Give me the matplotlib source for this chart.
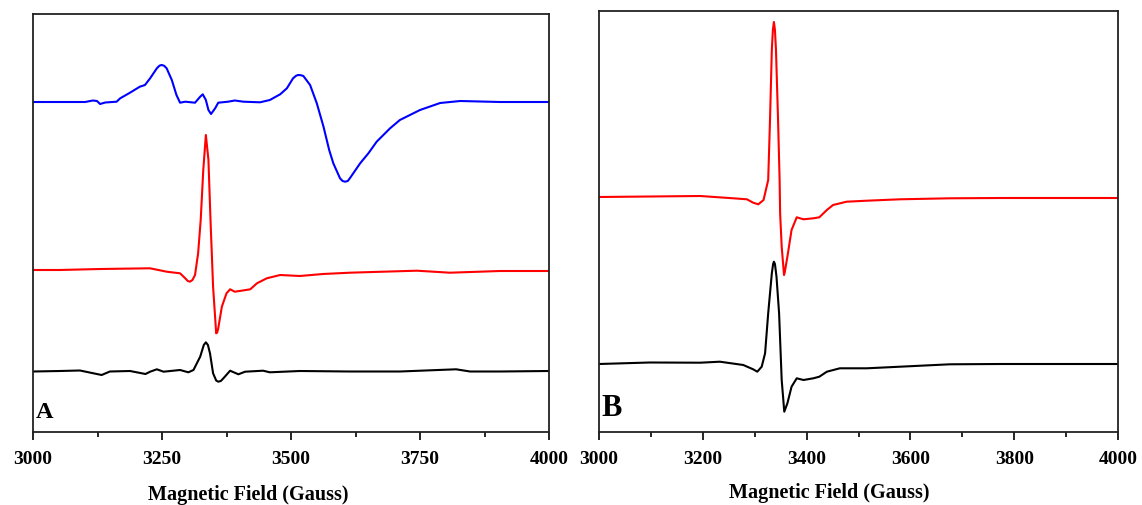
import matplotlib
matplotlib.use("Agg")
import matplotlib.pyplot as plt
from matplotlib.ticker import MultipleLocator

plt.rcParams['font.family'] = ['Liberation Serif', 'DejaVu Serif']

# ---------------- Panel A data (field in Gauss, intensity in a.u.) ----------------
a_blue_field = [3000, 3052, 3101, 3116, 3124, 3130, 3140, 3162, 3169, 3188, 3207, 3217, 3227,
                3240, 3245, 3249, 3254, 3259, 3269, 3278, 3285, 3295, 3314, 3324, 3329, 3335,
                3340, 3345, 3353, 3359, 3378, 3391, 3408, 3440, 3459, 3479, 3492, 3504, 3510,
                3514, 3519, 3524, 3537, 3550, 3563, 3574, 3582, 3595, 3600, 3605, 3610, 3614,
                3634, 3650, 3666, 3692, 3711, 3750, 3789, 3828, 3905, 4000]
a_blue_int = [330, 330, 330, 331.5, 331, 328, 329.5, 330.3, 333.7, 339.3, 345.3, 347, 353.7,
              363.7, 366.3, 367, 366.3, 363.7, 352, 337, 329.3, 330.3, 329.3, 335.3, 337.7, 332,
              322, 318, 323.7, 329.3, 330.3, 331.5, 330.3, 329.7, 332, 337.7, 343.7, 353.7, 356.3,
              357, 356.8, 356, 347, 328.7, 305.3, 282, 268.7, 253.7, 251, 250.3, 251, 253.7,
              268.7, 278.7, 290.3, 303.7, 312, 322, 329, 331, 330, 330]

a_red_field = [3000, 3052, 3130, 3227, 3259, 3285, 3295, 3300, 3304, 3309, 3314, 3320, 3325,
               3330, 3335, 3340, 3344, 3349, 3355, 3357, 3359, 3366, 3375, 3382, 3391, 3404,
               3421, 3434, 3453, 3479, 3517, 3562, 3614, 3678, 3744, 3808, 3905, 4000]
a_red_int = [162, 162, 163, 163.7, 160.3, 158.7, 153.7, 151, 150.3, 152, 157, 178.7, 212,
             262, 297, 272, 212, 145.3, 98.7, 99.5, 103.7, 125.3, 138.7, 142.7, 140.3, 141.3,
             142.7, 148.7, 153.7, 157, 156, 158, 159.3, 160.3, 161.3, 159.3, 161, 161]

a_black_field = [3000, 3052, 3091, 3133, 3149, 3188, 3218, 3227, 3240, 3253, 3285, 3301, 3311,
                 3324, 3331, 3335, 3339, 3343, 3349, 3355, 3359, 3364, 3369, 3382, 3398, 3411,
                 3446, 3459, 3517, 3614, 3711, 3820, 3847, 3905, 4000]
a_black_int = [60.5, 61, 61.5, 57, 60.5, 61, 58, 60.3, 62.7, 60.3, 62, 59.7, 62,
               75.3, 87, 89.7, 87, 78.7, 58.7, 51.5, 50.3, 51, 53.7, 61.3, 57.7, 60.3,
               61.3, 59.7, 61, 60.5, 60.5, 62.7, 60.5, 60.5, 61]

# ---------------- Panel B data ----------------
b_red_field = [3000, 3098, 3195, 3259, 3285, 3297, 3307, 3317, 3323, 3326, 3329.5, 3333, 3335,
               3337, 3339, 3341, 3345, 3348, 3349, 3352, 3356.5, 3358, 3363, 3371, 3381, 3394,
               3413, 3424.5, 3439, 3451, 3477, 3516, 3580, 3676, 3773, 3869, 4000]
b_red_int = [235, 235.5, 236, 233.7, 232.7, 229.3, 227.7, 232, 245.3, 252, 312, 382, 402,
             410, 402, 382, 312, 252, 218.7, 185.3, 157, 160, 175.3, 202, 214.7, 212.7,
             213.7, 214.7, 222, 227, 230.3, 231.3, 232.7, 233.7, 234, 234, 234]

b_black_field = [3000, 3098, 3195, 3233, 3278, 3297, 3305, 3313.5, 3320, 3326, 3333, 3335.5,
                 3337, 3339, 3342, 3347, 3352, 3357, 3363, 3371, 3381, 3394, 3413, 3424.5, 3439,
                 3464, 3516, 3580, 3676, 3773, 4000]
b_black_int = [68, 69.5, 69.3, 70.3, 67, 62.7, 60.3, 65.3, 78.7, 118.7, 158.7, 168,
               170.3, 168, 155.3, 118.7, 52, 20.3, 28.7, 45.3, 53.7, 52, 53.7, 55.3, 60.3,
               63.7, 63.7, 65.3, 67.7, 68, 68]

x_label = "Magnetic Field (Gauss)"

W, H = 1142, 505
fig = plt.figure(figsize=(W / 100, H / 100), dpi=100)

axA = fig.add_axes([33 / W, (H - 432) / H, 516 / W, 418 / H])
axB = fig.add_axes([599 / W, (H - 432) / H, 519 / W, 421 / H])

lw = 1.5
axA.plot(a_blue_field, a_blue_int, color='#0000ff', lw=lw)
axA.plot(a_red_field, a_red_int, color='#ff0000', lw=lw)
axA.plot(a_black_field, a_black_int, color='black', lw=lw)
axA.set_ylim(0, 418)

axB.plot(b_red_field, b_red_int, color='#ff0000', lw=lw)
axB.plot(b_black_field, b_black_int, color='black', lw=lw)
axB.set_ylim(0, 421)

for ax, major, minor in ((axA, 250, 125), (axB, 200, 100)):
    ax.set_xlim(3000, 4000)
    ax.xaxis.set_major_locator(MultipleLocator(major))
    ax.xaxis.set_minor_locator(MultipleLocator(minor))
    ax.set_yticks([])
    ax.tick_params(axis='x', which='major', direction='out', length=6, width=1.2,
                   labelsize=14, pad=8)
    ax.tick_params(axis='x', which='minor', direction='out', length=3.5, width=1.2)
    for lab in ax.get_xticklabels():
        lab.set_fontweight('bold')
    for sp in ax.spines.values():
        sp.set_linewidth(1.3)
        sp.set_color('#222222')
    ax.set_xlabel(x_label, fontsize=14.5, fontweight='bold')

axA.xaxis.set_label_coords(0.417, -0.151)
axB.xaxis.set_label_coords(0.443, -0.145)
axA.xaxis.label.set_va('center')
axB.xaxis.label.set_va('center')

axA.text(0.005, 0.022, "A", transform=axA.transAxes, fontsize=17.5, fontweight='bold',
         ha='left', va='bottom')
axB.text(0.005, 0.022, "B", transform=axB.transAxes, fontsize=22, fontweight='bold',
         ha='left', va='bottom')

fig.savefig("out.png", dpi=100)
